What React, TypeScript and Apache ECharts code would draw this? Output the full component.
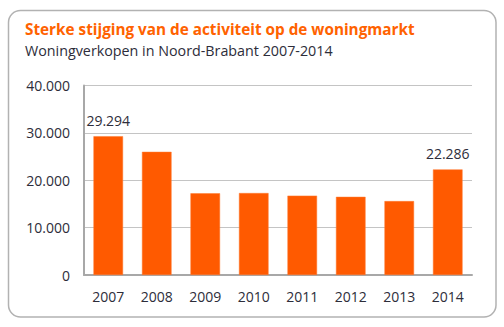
import React, { useEffect, useRef } from "react";
import * as echarts from "echarts";

const categories = ["2007", "2008", "2009", "2010", "2011", "2012", "2013", "2014"];
const values = [29294, 26000, 17250, 17300, 16750, 16500, 15600, 22286];
const labelledYears = ["2007", "2014"];
const titleText = "Sterke stijging van de activiteit op de woningmarkt";
const subtitleText = "Woningverkopen in Noord-Brabant 2007-2014";

const fmt = (v: number) => {
  if (v === 0) return "0";
  const s = Math.round(v).toString();
  return s.replace(/\B(?=(\d{3})+(?!\d))/g, ".");
};

export default function App() {
  const ref = useRef<HTMLDivElement>(null);
  useEffect(() => {
    if (!ref.current) return;
    const chart = echarts.init(ref.current, null, { renderer: "svg" });
    const font = "'Open Sans', 'Noto Sans', sans-serif";
    chart.setOption({
      animation: false,
      textStyle: { fontFamily: font },
      graphic: [
        {
          type: "rect",
          shape: { x: 8.5, y: 10.5, width: 487.5, height: 306.5, r: 12 },
          style: { fill: "#fff", stroke: "#b2b2b2", lineWidth: 1.5 },
          z: -10,
        },
        {
          type: "text",
          left: 25,
          top: 21,
          style: { text: titleText, fill: "#ff6200", font: `bold 15.3px ${font}` },
        },
        {
          type: "text",
          left: 25,
          top: 43,
          style: { text: subtitleText, fill: "#2d2d3a", font: `14.3px ${font}` },
        },
      ],
      grid: { left: 84, right: 32, top: 85.5, bottom: 52 },
      xAxis: {
        type: "category",
        data: categories,
        axisLine: { lineStyle: { color: "#a8a8a8", width: 2 } },
        axisTick: { show: false },
        axisLabel: { color: "#2d2d3a", fontSize: 14, margin: 14, fontFamily: font },
      },
      yAxis: {
        type: "value",
        min: 0,
        max: 40000,
        interval: 10000,
        axisLine: { show: true, lineStyle: { color: "#a8a8a8", width: 2 } },
        axisTick: { show: false },
        splitLine: { lineStyle: { color: "#c4c4c4", width: 1 } },
        axisLabel: { color: "#2d2d3a", fontSize: 14, margin: 14, formatter: fmt, fontFamily: font },
      },
      series: [
        {
          type: "bar",
          data: values.map((v, i) => ({
            value: v,
            label: {
              show: labelledYears.includes(categories[i]),
              position: "top",
              distance: 9,
              color: "#2d2d3a",
              fontSize: 14,
              fontFamily: font,
              formatter: (p: any) => fmt(p.value),
            },
          })),
          barWidth: "61%",
          itemStyle: { color: "#ff5a00", borderColor: "#ff7a30", borderWidth: 0.5 },
        },
      ],
    });
    return () => chart.dispose();
  }, []);
  return (
    <div
      ref={ref}
      style={{ position: "fixed", left: 0, top: 0, width: 504, height: 327, background: "#fff" }}
    />
  );
}
